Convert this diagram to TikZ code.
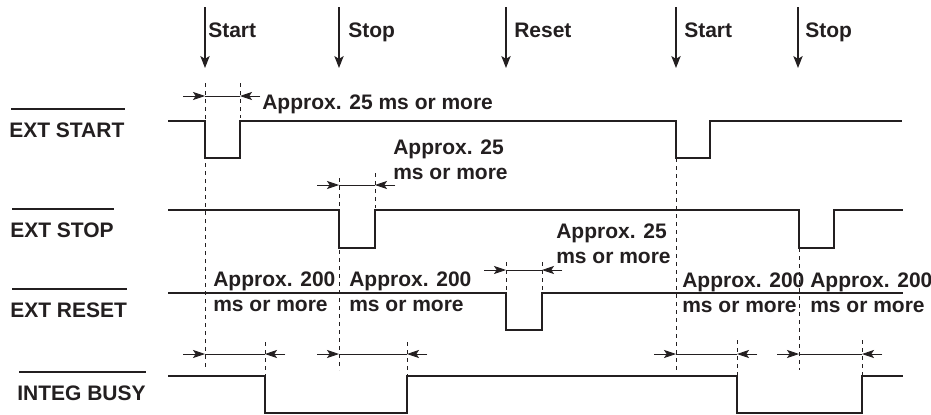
\documentclass[tikz,border=0pt]{standalone}
\usepackage{fontspec}
\setmainfont{Liberation Sans}
\usetikzlibrary{arrows.meta, calc}
\definecolor{ink}{RGB}{35,31,32}
\newcommand{\sigfont}{\fontsize{15.75}{18.5}\selectfont\bfseries}
\tikzset{
  sig/.style={draw=ink, line width=1.2pt},
  guide/.style={draw=ink, line width=0.55pt, dash pattern=on 3pt off 3pt},
  dimline/.style={draw=ink, line width=0.6pt},
  dimtip/.style={-{Stealth[length=9pt,width=6pt,inset=2pt]}, draw=ink, fill=ink, line width=0.6pt},
  evt/.style={-{Stealth[length=9pt,width=7pt,inset=2.2pt]}, draw=ink, fill=ink, line width=0.8pt},
  lbl/.style={anchor=base west, inner sep=0pt, font=\sigfont, text=ink},
  note/.style={anchor=base west, inner sep=0pt, align=left, font=\sigfont, text=ink},
  bar/.style={draw=ink, line width=0.8pt},
}
% time gap: left edge, right edge, height
\newcommand{\tgap}[3]{%
  \draw[dimline] (#1,#3) -- (#2,#3);
  \draw[dimtip] (#1-22,#3) -- (#1,#3);
  \draw[dimtip] (#2+20,#3) -- (#2,#3);}

\begin{document}
\begin{tikzpicture}[x=0.75pt, y=-0.75pt]
\useasboundingbox (0,0) rectangle (931,414);

% Ereignisse oben
\foreach \x/\tx/\t [count=\i] in {205/208/Start, 339/348/Stop, 506/514/Reset, 676/684/Start, 798/805/Stop} {
  \coordinate (e\i) at (\x,7);
  \draw[evt] (e\i) -- (\x,68);
  \node[lbl] (ev\i) at (\tx,37) {\t};
}

% Signalnamen (low-aktiv)
\node[lbl] (lstart) at (9,137) {EXT START};
\node[lbl] (lstop)  at (10,237) {EXT STOP};
\node[lbl] (lreset) at (10,317) {EXT RESET};
\node[lbl] (lbusy)  at (17,400) {INTEG BUSY};
\foreach \l in {lstart,lstop,lreset,lbusy}
  \draw[bar] ($(\l.base west)+(2,-28)$) -- ($(\l.base east)+(0,-28)$);

% Signalverlauf
\draw[sig] (168,121) -| (205,158) -| (240,121) -| (676,158) -| (710,121) -- (902,121);
\draw[sig] (168,210) -| (339,248) -| (375,210) -| (799,248) -| (834,210) -- (903,210);
\draw[sig] (168,293) -| (506,330) -| (542,293) -- (903,293);
\draw[sig] (168,376) -| (265,413) -| (407,376) -| (737,413) -| (862,376) -- (903,376);

% Hilfslinien
\foreach \x/\a/\b in {205/83/370, 240/83/118, 339/178/370, 375/173/208,
                      506/262/290, 542/262/290, 676/158/370, 799/248/370,
                      265/342/376, 407/342/376, 737/340/376, 862/340/376}
  \draw[guide] (\x,\a) -- (\x,\b);

% Zeitabstaende
\tgap{205}{240}{96}
\tgap{339}{375}{185}
\tgap{506}{542}{270}
\tgap{205}{265}{354}
\tgap{339}{407}{354}
\tgap{676}{737}{354}
\tgap{799}{862}{354}

\node[note] (n1) at (262,109) {Approx. 25 ms or more};
\node[note] (n2) at (393,179) {Approx. 25\\ms or more};
\node[note] (n3) at (556,263) {Approx. 25\\ms or more};
\node[note] (n4) at (213,311) {Approx. 200\\ms or more};
\node[note] (n5) at (349,311) {Approx. 200\\ms or more};
\node[note] (n6) at (682,312) {Approx. 200\\ms or more};
\node[note] (n7) at (810,312) {Approx. 200\\ms or more};

\end{tikzpicture}
\end{document}
